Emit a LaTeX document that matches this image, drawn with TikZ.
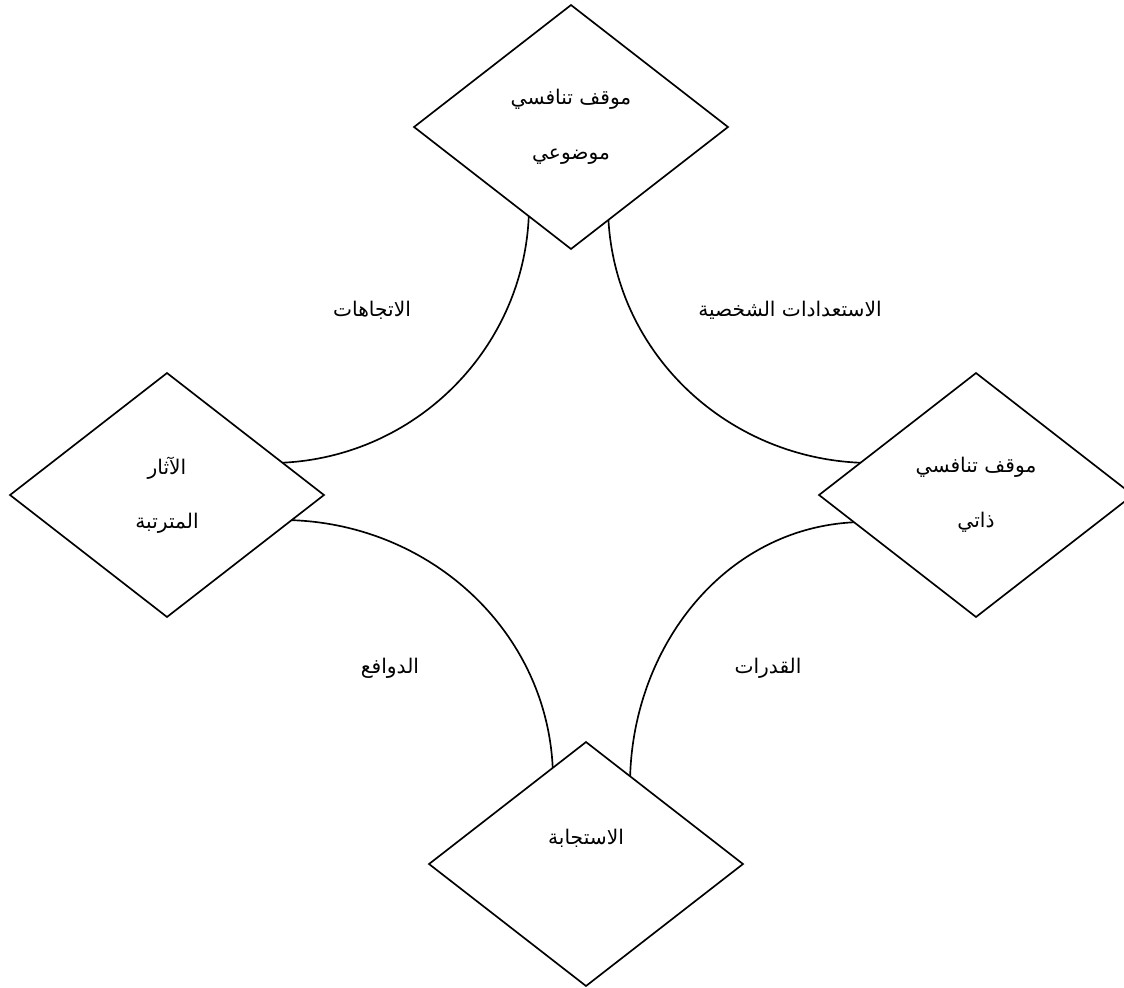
\documentclass[tikz,border=0pt]{standalone}
\usepackage{fontspec}
\usetikzlibrary{shapes.geometric}
\TeXXeTstate=1
\newfontfamily\arabicfont[Script=Arabic]{DejaVu Sans}
\newcommand{\ar}[1]{\beginR #1\endR}
\tikzset{
  dbox/.style={diamond, draw, fill=white, line width=0.95pt, inner sep=0pt, outer sep=0pt,
    minimum width=6.28cm, minimum height=4.88cm, align=center,
    font=\arabicfont\fontsize{11.5}{31}\selectfont},
  link/.style={line width=0.95pt},
  lbl/.style={font=\arabicfont\fontsize{11.5}{13}\selectfont, inner sep=0pt}
}
\begin{document}
\begin{tikzpicture}[x=0.02cm,y=0.02cm]
\useasboundingbox (0,0) rectangle (1124,-987);
% arc end coordinates (hidden under the diamonds)
\coordinate (tl1) at (529,-205);
\coordinate (tl2) at (270,-463);
\coordinate (tr1) at (608,-205);
\coordinate (tr2) at (872,-463);
\coordinate (bl1) at (282,-520);
\coordinate (bl2) at (553,-780);
\coordinate (br1) at (865,-522);
\coordinate (br2) at (630,-785);
\draw[link] (tl1) to[out=-90,in=0] (tl2);
\draw[link] (tr1) to[out=-90,in=180] (tr2);
\draw[link] (bl1) to[out=0,in=90] (bl2);
\draw[link] (br1) to[out=180,in=90] (br2);
% diamonds
\node[dbox] (top) at (571,-127) {\ar{موقف تنافسي}\\\ar{موضوعي}};
\node[dbox] (left) at (167,-495) {\ar{الآثار}\\\ar{المترتبة}};
\node[dbox] (right) at (976,-495) {\ar{موقف تنافسي}\\\ar{ذاتي}};
\node[dbox] (bottom) at (586,-864) {\ar{الاستجابة}\\\mbox{}};
% labels
\node[lbl] (l1) at (372,-310) {\ar{الاتجاهات}};
\node[lbl] (l2) at (790,-310) {\ar{الاستعدادات الشخصية}};
\node[lbl] (l3) at (390,-668) {\ar{الدوافع}};
\node[lbl] (l4) at (768,-668) {\ar{القدرات}};
\end{tikzpicture}
\end{document}
